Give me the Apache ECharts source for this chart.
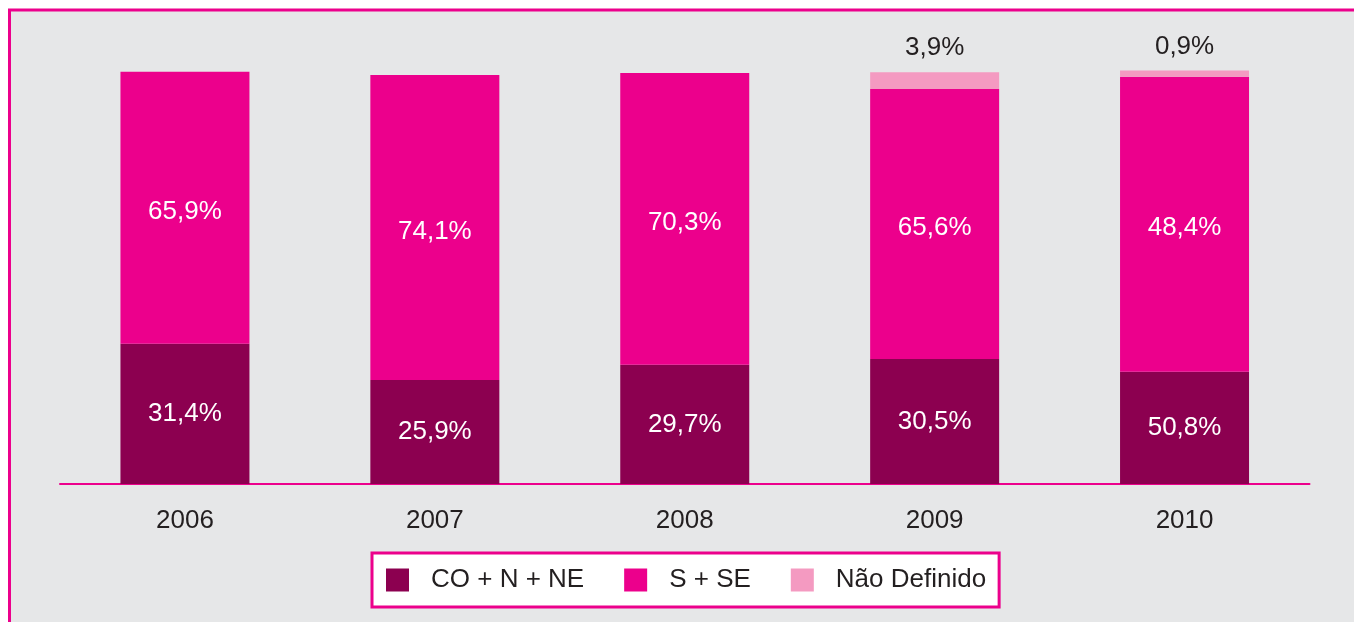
<!DOCTYPE html>
<html>
<head>
<meta charset="utf-8">
<style>
  html, body { margin: 0; padding: 0; background: #ffffff; }
  #chart { width: 1354px; height: 622px; }
</style>
<script src="https://cdn.jsdelivr.net/npm/echarts@6/dist/echarts.min.js"></script>
</head>
<body>
<div id="chart"></div>
<script>
// Categories
const categories = ['2006', '2007', '2008', '2009', '2010'];
// Bar heights as drawn in the picture (percent of full bar)
const coHeights  = [34.1, 25.3, 29.0, 30.4, 27.3];
const sseHeights = [66.2, 74.2, 71.0, 65.7, 71.8];
const ndHeights  = [null, null, null, 4.1, 1.5];
// Values printed on the bars
const coPrinted  = [31.4, 25.9, 29.7, 30.5, 50.8];
const ssePrinted = [65.9, 74.1, 70.3, 65.6, 48.4];
const ndPrinted  = [null, null, null, 3.9, 0.9];
// Series names
const seriesNames = ['CO + N + NE', 'S + SE', 'Não Definido'];

const FONT = "'Liberation Sans', Arial, Helvetica, sans-serif";
const TEXT = '#231f20';
const MAGENTA = '#ec008c';

function fmt(v) {
  if (v === null || v === undefined) return '';
  return v.toFixed(1).replace('.', ',') + '%';
}

const chart = echarts.init(document.getElementById('chart'), null, { renderer: 'canvas' });

const option = {
  backgroundColor: '#ffffff',
  animation: false,
  graphic: [{
    type: 'rect',
    z: -10,
    silent: true,
    shape: { x: 9.5, y: 10, width: 1500, height: 800 },
    style: { fill: '#e6e7e8', stroke: MAGENTA, lineWidth: 3 }
  }],
  textStyle: { fontFamily: FONT },
  grid: { left: 60, right: 44.5, top: 484 - 4.11 * 110, bottom: 138 },
  legend: {
    data: seriesNames,
    left: 372,
    top: 553,
    icon: 'rect',
    itemWidth: 23,
    itemHeight: 23,
    itemGap: 40,
    backgroundColor: '#ffffff',
    borderColor: MAGENTA,
    borderWidth: 3,
    padding: [14, 13, 14, 14],
    textStyle: { fontSize: 26, color: TEXT, fontFamily: FONT, padding: [0, 0, 0, 17] }
  },
  xAxis: {
    type: 'category',
    data: categories,
    axisLine: { show: true, lineStyle: { color: MAGENTA, width: 2 } },
    axisTick: { show: false },
    axisLabel: { fontSize: 26, color: TEXT, fontFamily: FONT, margin: 24 }
  },
  yAxis: {
    type: 'value',
    min: 0,
    max: 110,
    show: false,
    splitLine: { show: false }
  },
  series: [
    {
      name: seriesNames[0],
      type: 'bar',
      stack: 'total',
      barWidth: 129,
      data: coHeights,
      itemStyle: { color: '#8c0050' },
      label: {
        show: true, position: 'inside', color: '#ffffff', fontSize: 26, fontFamily: FONT,
        formatter: p => fmt(coPrinted[p.dataIndex])
      }
    },
    {
      name: seriesNames[1],
      type: 'bar',
      stack: 'total',
      barWidth: 129,
      data: sseHeights,
      itemStyle: { color: MAGENTA },
      label: {
        show: true, position: 'inside', offset: [0, 4], color: '#ffffff', fontSize: 26, fontFamily: FONT,
        formatter: p => fmt(ssePrinted[p.dataIndex])
      }
    },
    {
      name: seriesNames[2],
      type: 'bar',
      stack: 'total',
      barWidth: 129,
      data: ndHeights,
      itemStyle: { color: '#f49ac1' },
      label: {
        show: true, position: 'top', distance: 11, color: TEXT, fontSize: 26, fontFamily: FONT,
        formatter: p => fmt(ndPrinted[p.dataIndex])
      }
    }
  ]
};

chart.setOption(option);
</script>
</body>
</html>
